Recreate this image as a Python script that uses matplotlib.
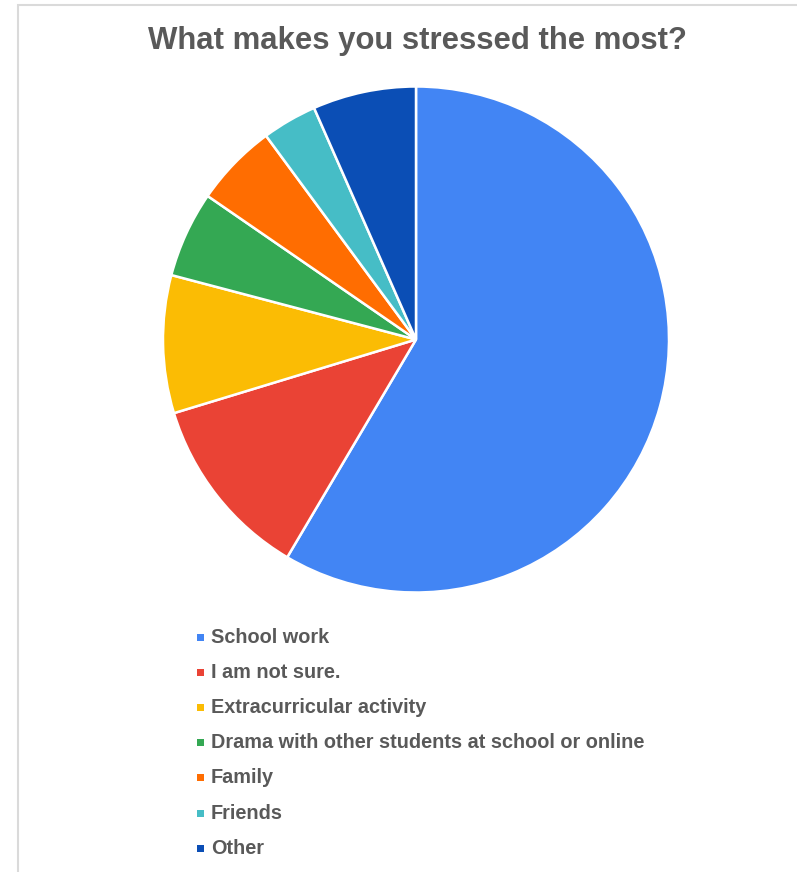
import matplotlib
matplotlib.use("Agg")
import matplotlib.pyplot as plt
from matplotlib.patches import Rectangle

plt.rcParams['font.family'] = ['Liberation Sans', 'DejaVu Sans']

title = "What makes you stressed the most?"
labels = ["School work", "I am not sure.", "Extracurricular activity",
          "Drama with other students at school or online", "Family",
          "Friends", "Other"]
shares = [58.5, 11.8, 8.8, 5.5, 5.3, 3.5, 6.6]
colors = ["#4285F4", "#EA4335", "#FBBC04", "#34A853", "#FF6D01",
          "#46BDC6", "#0B4EB5"]

W, H = 797, 872
fig = plt.figure(figsize=(W / 100, H / 100), dpi=100)
fig.patch.set_facecolor("white")

# light border of the chart box (cropped at right/bottom)
fig.add_artist(Rectangle((18 / W, -0.1), 1.2, 1.1 - 5 / H, transform=fig.transFigure,
                         fill=False, edgecolor="#dadada", linewidth=1.5))

cx, cy, r = 416, 339.5, 253
ax = fig.add_axes([(cx - r) / W, 1 - (cy + r) / H, 2 * r / W, 2 * r / H])
ax.pie(shares, colors=colors, startangle=90, counterclock=False, radius=1,
       wedgeprops=dict(edgecolor="white", linewidth=1.8))
ax.set_xlim(-1, 1)
ax.set_ylim(-1, 1)
ax.set_aspect("equal")
ax.axis("off")

fig.text(417 / W, 1 - 41 / H, title, ha="center", va="center",
         fontsize=22.4, fontweight="bold", color="#595959")

y0, dy = 637, 35.2
for i, (lab, col) in enumerate(zip(labels, colors)):
    y = y0 + i * dy
    fig.add_artist(Rectangle((197 / W, 1 - (y + 3.5) / H), 7 / W, 7 / H,
                             transform=fig.transFigure, facecolor=col, edgecolor="none"))
    fig.text(211 / W, 1 - y / H, lab, ha="left", va="center",
             fontsize=14.3, fontweight="bold", color="#595959")

fig.savefig("out.png", dpi=100, facecolor="white")
